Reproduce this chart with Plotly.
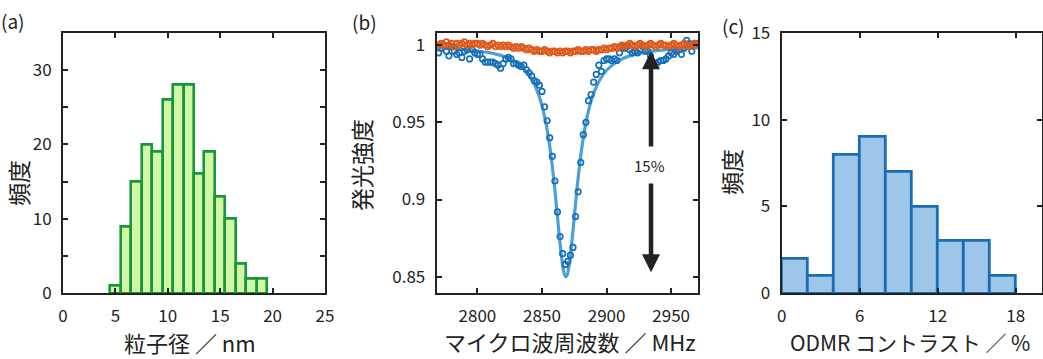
import plotly.graph_objects as go

# ---------------- data ----------------
# (a) particle size histogram
size_centers = [5, 6, 7, 8, 9, 10, 11, 12, 13, 14, 15, 16, 17, 18, 19]
size_counts = [1, 9, 15, 20, 19, 26, 28, 28, 16, 19, 13, 10, 4, 2, 2]

# (b) ODMR spectrum
freq = list(range(2770, 2972, 2))
odmr_on = [
    0.995, 0.998, 1.000, 0.996, 0.993, 0.999, 0.996, 0.994, 0.995, 0.992,
    0.996, 0.997, 0.991, 0.997, 0.995, 0.994, 0.994, 0.991, 0.989, 0.989,
    0.989, 0.989, 0.988, 0.987, 0.985, 0.988, 0.991, 0.992, 0.991, 0.988,
    0.988, 0.987, 0.986, 0.987, 0.984, 0.982, 0.980, 0.977, 0.976, 0.974,
    0.970, 0.960, 0.951, 0.940, 0.928, 0.912, 0.892, 0.876, 0.865, 0.858,
    0.860, 0.864, 0.869, 0.889, 0.905, 0.924, 0.942, 0.950, 0.964,
    0.968, 0.976, 0.981, 0.987, 0.983, 0.990, 0.991, 0.991, 0.990, 0.991,
    0.990, 0.995, 0.999, 0.998, 0.999, 0.997, 0.995, 0.996, 0.995, 0.997,
    0.999, 0.996, 0.996, 0.993, 0.987, 0.988, 0.989, 0.990, 0.990, 0.991,
    0.993, 0.995, 0.994, 0.996, 0.997, 0.994, 0.998, 1.003, 1.001, 0.996,
    1.001, 1.001,
]
odmr_off = [
    1.000, 1.001, 1.000, 1.002, 1.000, 1.001, 0.999, 1.001, 1.000, 1.001,
    1.002, 1.000, 1.001, 1.000, 1.001, 1.001, 1.000, 1.001, 1.000, 0.999,
    1.000, 1.001, 0.999, 1.000, 0.999, 1.000, 0.999, 1.000, 0.999, 0.998,
    0.999, 0.998, 0.999, 0.998, 0.997, 0.998, 0.997, 0.996, 0.997, 0.996,
    0.996, 0.997, 0.996, 0.995, 0.996, 0.996, 0.995, 0.996, 0.995, 0.996,
    0.996, 0.995, 0.996, 0.996, 0.997, 0.996, 0.996, 0.997, 0.996, 0.997,
    0.997, 0.996, 0.997, 0.997, 0.998, 0.997, 0.998, 0.998, 0.999, 0.998,
    0.999, 1.000, 0.999, 1.000, 1.001, 1.000, 0.999, 1.000, 1.001, 1.000,
    0.999, 1.000, 1.001, 1.000, 0.999, 1.000, 1.001, 1.000, 1.000, 0.999,
    1.000, 1.001, 1.000, 0.999, 1.000, 1.001, 1.000, 0.999, 1.000, 1.001,
    1.000,
]
fit_freq = [2768, 2780, 2790, 2800, 2810, 2820, 2830, 2835, 2840, 2845,
            2850, 2853, 2856, 2858, 2860, 2862, 2864, 2866, 2867, 2868,
            2869, 2870, 2871, 2873, 2875, 2877, 2879, 2881, 2884, 2887,
            2890, 2895, 2900, 2910, 2920, 2930, 2940, 2950, 2960, 2971]
fit_val = [0.9982, 0.9977, 0.9971, 0.9962, 0.9949, 0.9927, 0.9887, 0.9854, 0.9806, 0.9730,
           0.9608, 0.9498, 0.9345, 0.9215, 0.9061, 0.8888, 0.8715, 0.8574, 0.8527, 0.8503,
           0.8503, 0.8527, 0.8574, 0.8715, 0.8888, 0.9061, 0.9215, 0.9345, 0.9498, 0.9608,
           0.9689, 0.9779, 0.9837, 0.9902, 0.9935, 0.9953, 0.9965, 0.9973, 0.9979, 0.9983]
contrast_label = "15%"
arrow_freq = 2934.4
arrow_top = 0.9960
arrow_bottom = 0.8530
arrow_gap_top = 0.9333
arrow_gap_bottom = 0.9113

# (c) ODMR contrast histogram
contrast_centers = [1, 3, 5, 7, 9, 11, 13, 15, 17]
contrast_counts = [2, 1, 8, 9, 7, 5, 3, 3, 1]

# ---------------- layout helpers ----------------
W, H = 1043, 359
FONT = "Noto Sans CJK JP, Noto Sans, sans-serif"
INK = "#222222"


def px(x):
    return x / W


def py(y):
    return 1 - y / H


fig = go.Figure()

fig.add_trace(go.Bar(
    x=size_centers, y=size_counts, width=1,
    marker=dict(color="#d3f5a6", line=dict(color="#16973a", width=2.6)),
    xaxis="x", yaxis="y", showlegend=False))

fig.add_trace(go.Scatter(
    x=fit_freq, y=fit_val, mode="lines", line=dict(color="#4d9fd9", width=3.2, shape="spline"),
    xaxis="x2", yaxis="y2", showlegend=False))
fig.add_trace(go.Scatter(
    x=freq, y=odmr_on, mode="markers",
    marker=dict(symbol="circle-open", size=5.5, color="#1570b8", line=dict(width=1.7)),
    xaxis="x2", yaxis="y2", showlegend=False))
fig.add_trace(go.Scatter(
    x=freq, y=odmr_off, mode="markers",
    marker=dict(symbol="circle-open", size=5.5, color="#dd5a1c", line=dict(width=1.8)),
    xaxis="x2", yaxis="y2", showlegend=False))

fig.add_trace(go.Bar(
    x=contrast_centers, y=contrast_counts, width=2,
    marker=dict(color="#9dc6e8", line=dict(color="#1a6db3", width=2.8)),
    xaxis="x3", yaxis="y3", showlegend=False))

axis_common = dict(
    showline=True, linecolor=INK, linewidth=2, mirror="ticks",
    ticks="inside", ticklen=5, tickwidth=1.5, tickcolor=INK,
    showgrid=False, zeroline=False, automargin=False,
    tickfont=dict(family=FONT, size=17, color=INK),
)

ydom = [py(293.3), py(32.7)]

fig.update_layout(
    template="none",
    width=W, height=H, margin=dict(l=0, r=0, t=0, b=0, autoexpand=False),
    paper_bgcolor="white", plot_bgcolor="white", bargap=0,
    xaxis=dict(axis_common, domain=[px(63), px(325)], range=[0, 25],
               tickvals=[0, 5, 10, 15, 20, 25], anchor="y", ticklabelstandoff=6),
    yaxis=dict(axis_common, domain=ydom, range=[0, 35],
               tickvals=[0, 5, 10, 15, 20, 25, 30, 35],
               ticktext=["0", "", "10", "", "20", "", "30", ""], anchor="x",
               ticklabelstandoff=6),
    xaxis2=dict(axis_common, domain=[px(436.7), px(698.3)], range=[2768.5, 2971],
                tickvals=[2800, 2850, 2900, 2950], anchor="y2", ticklabelstandoff=6),
    yaxis2=dict(axis_common, domain=ydom, range=[0.8393, 1.008],
                tickvals=[0.85, 0.9, 0.95, 1.0], ticktext=["0.85", "0.9", "0.95", "1"],
                anchor="x2", ticklabelstandoff=6),
    xaxis3=dict(axis_common, domain=[px(781.7), px(1041.7)], range=[0, 20],
                tickvals=[0, 6, 12, 18], anchor="y3", ticklabelstandoff=6),
    yaxis3=dict(axis_common, domain=ydom, range=[0, 15],
                tickvals=[0, 5, 10, 15], anchor="x3", ticklabelstandoff=6),
)

anns = []


def text_ann(x, y, text, size, angle=0):
    anns.append(dict(x=px(x), y=py(y), xref="paper", yref="paper", text=text,
                     showarrow=False, textangle=angle, xanchor="center", yanchor="middle",
                     font=dict(family=FONT, size=size, color=INK)))


# panel labels
text_ann(13, 20, "(a)", 19)
text_ann(364, 21, "(b)", 19)
text_ann(733, 25, "(c)", 19)
# axis titles
text_ann(18, 183, "頻度", 23, -90)
text_ann(361, 165, "発光強度", 23, -90)
text_ann(731, 172, "頻度", 23, -90)
text_ann(190, 342, "粒子径 ／ nm", 22)
text_ann(570, 341, "マイクロ波周波数 ／ MHz", 22)
text_ann(910, 342, "ODMR コントラスト ／ %", 21)

# contrast arrow
for tip, tail in [(arrow_top, arrow_gap_top), (arrow_bottom, arrow_gap_bottom)]:
    anns.append(dict(x=arrow_freq, y=tip, ax=arrow_freq, ay=tail,
                     xref="x2", yref="y2", axref="x2", ayref="y2",
                     text="", showarrow=True, arrowhead=2, arrowsize=0.8,
                     arrowwidth=4.5, arrowcolor=INK))
anns.append(dict(x=arrow_freq - 1.2, y=(arrow_gap_top + arrow_gap_bottom) / 2,
                 xref="x2", yref="y2", text=contrast_label, showarrow=False,
                 font=dict(family=FONT, size=15, color=INK)))

fig.update_layout(annotations=anns)

fig.write_html("out.html", config={"displayModeBar": False},
               post_script="document.body.style.margin='0';")
